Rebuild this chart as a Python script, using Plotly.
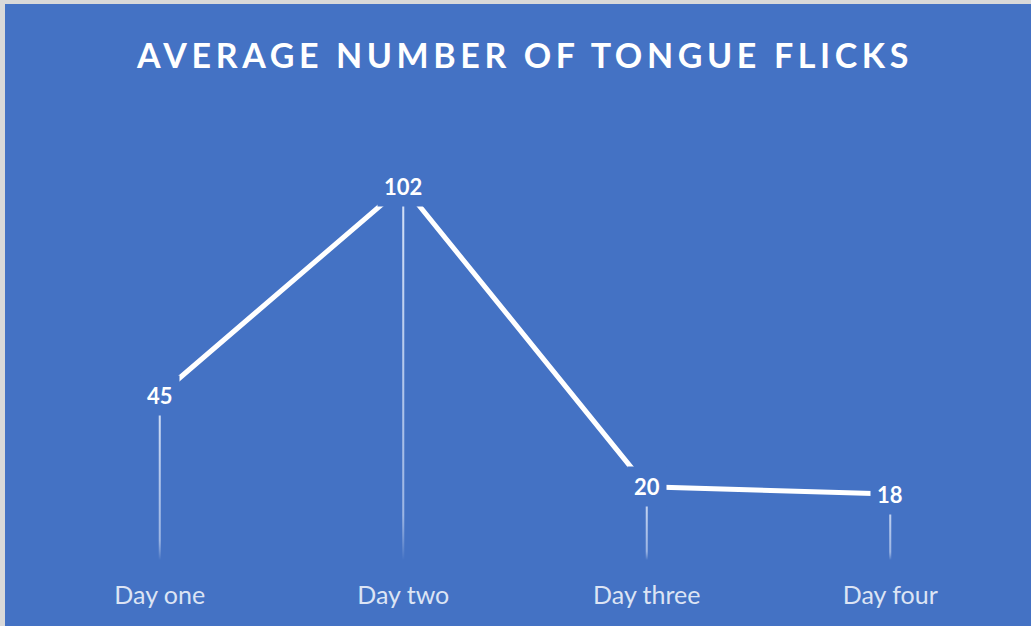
import plotly.graph_objects as go

categories = ["Day one", "Day two", "Day three", "Day four"]
values = [45, 102, 20, 18]
title_text = "AVERAGE NUMBER OF TONGUE FLICKS"

BLUE = "#4472C4"
FONT = "Lato"

xs = list(range(len(categories)))
fig = go.Figure()

# drop lines with fading gradient
d = 0.0042
for i, v in zip(xs, values):
    fig.add_trace(go.Scatter(
        x=[i - d, i + d, i + d, i - d, i - d],
        y=[0, 0, v, v, 0],
        mode="lines", fill="toself", line=dict(width=0),
        fillgradient=dict(type="vertical", start=0, stop=v,
                          colorscale=[[0, "rgba(255,255,255,0)"],
                                      [0.12, "rgba(215,226,248,0.6)"],
                                      [1, "rgba(230,238,252,0.9)"]]),
        hoverinfo="skip", showlegend=False))

fig.add_trace(go.Scatter(x=xs, y=values, mode="lines",
                         line=dict(color="white", width=5),
                         showlegend=False))

for i, v in zip(xs, values):
    fig.add_annotation(x=i, y=v, text=f"<b>{v}</b>", showarrow=False,
                       font=dict(family=FONT, size=22, color="white"),
                       bgcolor=BLUE, borderpad=6, xanchor="center", yanchor="middle")

fig.update_layout(
    width=1031, height=626,
    margin=dict(l=38, r=19, t=120, b=66),
    paper_bgcolor=BLUE, plot_bgcolor=BLUE,
    title=dict(text=f'<span style="letter-spacing:4.6px"><b>{title_text}</b></span>',
               x=0.5, xref="paper", xanchor="center", y=0.91, yref="container", yanchor="middle",
               font=dict(family=FONT, size=34, color="white")),
    xaxis=dict(range=[-0.5, 3.5], tickvals=xs, ticktext=categories,
               showgrid=False, zeroline=False, showline=False, ticks="",
               tickfont=dict(family=FONT, size=25, color="#DCE4F4"), ticklabelstandoff=18),
    yaxis=dict(range=[0, 120], visible=False, showgrid=False, zeroline=False),
    shapes=[
        dict(type="rect", xref="paper", yref="paper", x0=-0.05, x1=1.05, y0=1.2636, y1=1.3,
             fillcolor="#D9D9D9", line=dict(width=0), layer="above"),
        dict(type="rect", xref="paper", yref="paper", x0=-0.05, x1=(5 - 38) / 974, y0=-0.2, y1=1.3,
             fillcolor="#D9D9D9", line=dict(width=0), layer="above"),
    ],
)

fig.write_html("out.html")
